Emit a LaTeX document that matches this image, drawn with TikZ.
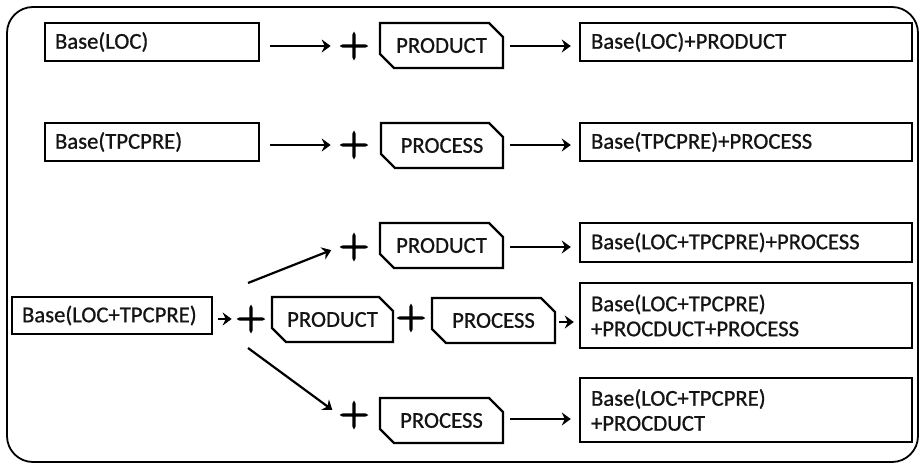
\documentclass[tikz,border=0pt]{standalone}
\usepackage{fontspec}
\setmainfont{Carlito}[FakeBold=0.8]
\newfontfamily\plusfont{Latin Modern Sans}[FakeBold=4.5]
\usetikzlibrary{shapes.misc,arrows.meta}
\definecolor{txt}{HTML}{141414}
\begin{document}
\begin{tikzpicture}[x=1pt,y=-1pt,
  lbl/.style={font=\fontsize{22.7}{25}\selectfont, text=txt},
  basebox/.style={lbl, draw, line width=2.4pt, rectangle, inner xsep=10pt, inner ysep=0pt, align=left},
  chbox/.style={lbl, draw, line width=2.4pt, chamfered rectangle, chamfered rectangle corners={north east,south west},
     chamfered rectangle xsep=7pt, chamfered rectangle ysep=7pt, inner sep=0pt, minimum height=45pt},
  plus/.style={font=\plusfont\fontsize{40}{40}\selectfont, text=black, inner sep=0pt, minimum width=27pt, minimum height=27pt},
  arr/.style={line width=2.2pt, -{Stealth[length=9pt,width=13pt,inset=3pt]}},
  frame/.style={draw, line width=1.8pt, rounded corners=26pt}
]
\useasboundingbox (0,0) rectangle (922,465);
\path[frame] (7,7) rectangle (918,462);

% left base boxes
\node[basebox, minimum width=214pt, minimum height=38pt, text width=194pt] (loc) at (152,42) {Base(LOC)};
\node[basebox, minimum width=214pt, minimum height=38pt, text width=194pt] (tpc) at (152,142) {Base(TPCPRE)};
\node[basebox, minimum width=200pt, minimum height=37pt, text width=180pt] (lt) at (112,315.5) {Base(LOC+TPCPRE)};

% chamfered boxes
\node[chbox, minimum width=123pt] (prod1) at (441.5,45.5) {PRODUCT};
\node[chbox, minimum width=122pt] (proc2) at (442,145.5) {PROCESS};
\node[chbox, minimum width=123pt] (prod3) at (441.5,245.5) {PRODUCT};
\node[chbox, minimum width=121pt] (prod4) at (332.5,319.5) {PRODUCT};
\node[chbox, minimum width=123pt] (proc4) at (493.5,320.5) {PROCESS};
\node[chbox, minimum width=123pt] (proc5) at (441.5,420.5) {PROCESS};

% result boxes
\node[basebox, minimum width=332pt, minimum height=38pt, text width=310pt, inner xsep=11pt] (res1) at (746,42) {Base(LOC)+PRODUCT};
\node[basebox, minimum width=332pt, minimum height=38pt, text width=310pt, inner xsep=11pt] (res2) at (746,142) {Base(TPCPRE)+PROCESS};
\node[basebox, minimum width=332pt, minimum height=39pt, text width=310pt, inner xsep=11pt] (res3) at (746,242.5) {Base(LOC+TPCPRE)+PROCESS};
\node[basebox, minimum width=332pt, minimum height=65pt, text width=310pt, inner xsep=11pt] (res4) at (746,315.5) {Base(LOC+TPCPRE)\\+PROCDUCT+PROCESS};
\node[basebox, minimum width=332pt, minimum height=64pt, text width=310pt, inner xsep=11pt] (res5) at (746,410) {Base(LOC+TPCPRE)\\+PROCDUCT};

% plus signs
\node[plus] (p1) at (354,46) {+};
\node[plus] (p2) at (354,145) {+};
\node[plus] (p3) at (354,247) {+};
\node[plus] (p4) at (251,319) {+};
\node[plus] (p4b) at (411,318) {+};
\node[plus] (p5) at (354,415) {+};

\coordinate (s1) at (248,283);
\coordinate (s2) at (248,348);

% arrows
\draw[arr, shorten <=10pt, shorten >=8.5pt] (loc.east |- p1) -- (p1.west);
\draw[arr, shorten <=6pt, shorten >=8pt] (prod1.east |- p1) -- (res1.west |- p1);
\draw[arr, shorten <=10pt, shorten >=8.5pt] (tpc.east |- p2) -- (p2.west);
\draw[arr, shorten <=6pt, shorten >=8pt] (proc2.east |- p2) -- (res2.west |- p2);
\draw[arr, shorten >=8.5pt] (s1) -- (p3.west);
\draw[arr, shorten <=6pt, shorten >=8pt] (prod3.east |- p3) -- (res3.west |- p3);
\draw[arr, shorten <=5pt, shorten >=4.5pt] (lt.east |- p4) -- (p4.west);
\draw[arr, shorten <=3pt, shorten >=5pt] (proc4.east |- 0,322) -- (res4.west |- 0,322);
\draw[arr, shorten >=8.5pt] (s2) -- (p5.west);
\draw[arr, shorten <=6pt, shorten >=8pt] (proc5.east |- 0,419) -- (res5.west |- 0,419);
\end{tikzpicture}
\end{document}
